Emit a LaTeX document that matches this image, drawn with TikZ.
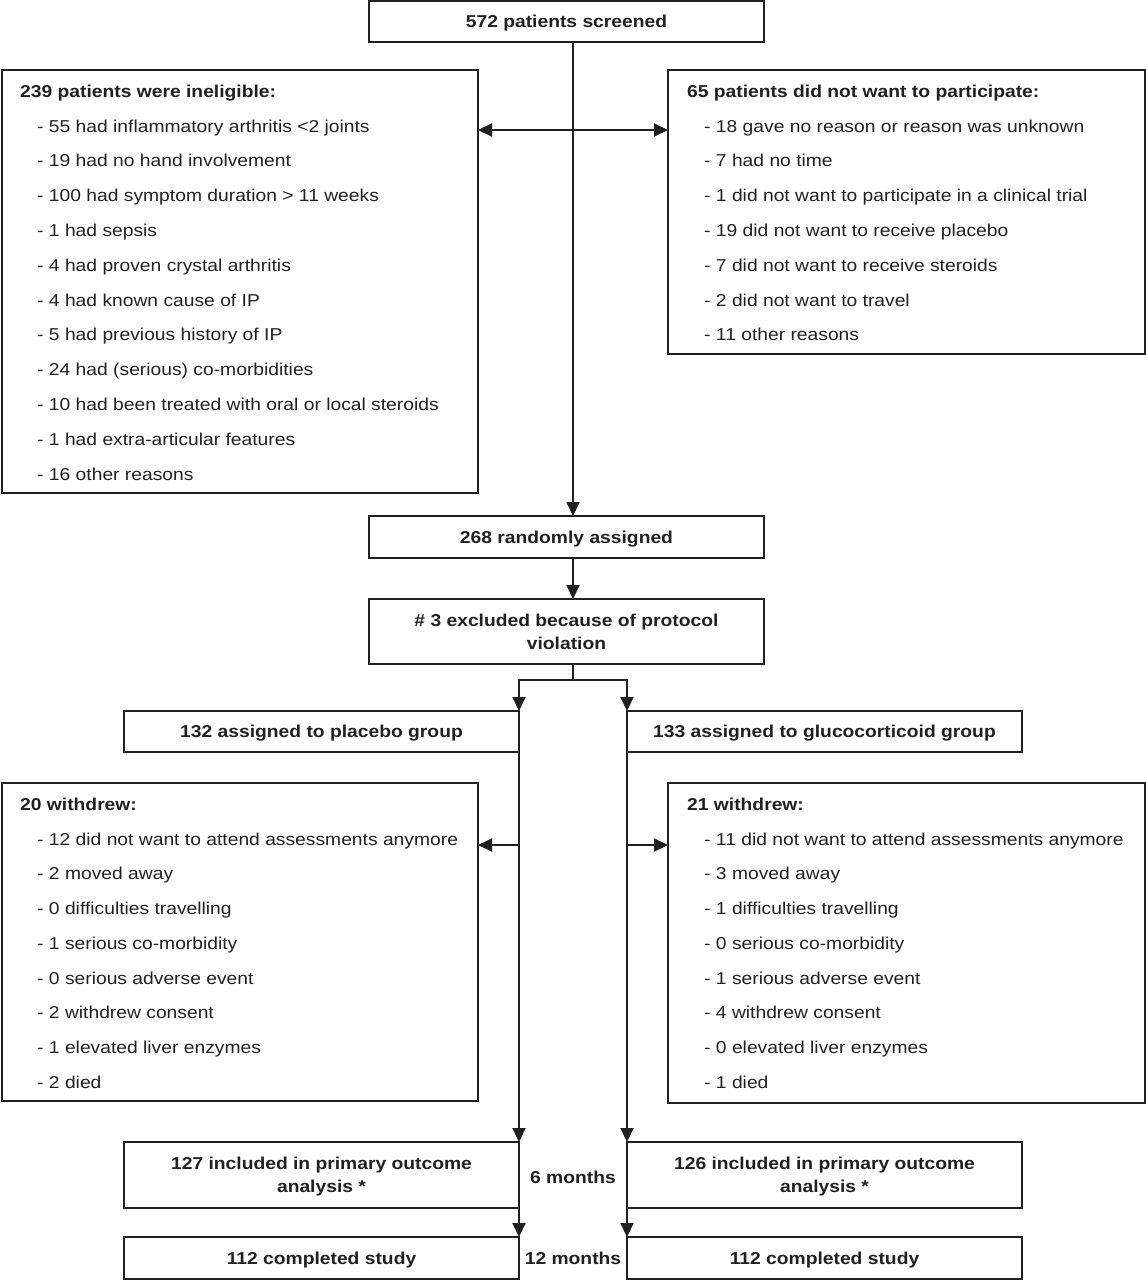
\documentclass[tikz,border=0pt]{standalone}
\usepackage{fontspec}
\setmainfont{Liberation Sans}[FakeStretch=1.12]
\usetikzlibrary{arrows.meta}
\definecolor{ink}{HTML}{202020}
\begin{document}
\begin{tikzpicture}[x=1pt,y=-1pt,
  box/.style={draw=ink, line width=2pt, anchor=north west, inner sep=0pt, outer sep=0pt,
    font=\fontsize{17.2}{23}\selectfont\bfseries, align=center, text=ink},
  one/.style={text height=12.3pt, text depth=0pt},
  lbl/.style={anchor=base west, inner sep=0pt, font=\fontsize{17.2}{23}\selectfont, text=ink},
  ttl/.style={anchor=base west, inner sep=0pt, font=\fontsize{17.2}{23}\selectfont\bfseries, text=ink},
  mlbl/.style={inner sep=0pt, text height=12.3pt, text depth=0pt, font=\fontsize{17.2}{23}\selectfont\bfseries, text=ink},
  tip/.tip={Triangle[length=14pt,width=13pt]},
  arr/.style={draw=ink, line width=2pt, -tip},
  ln/.style={draw=ink, line width=2pt}]
\useasboundingbox (0,0) rectangle (1146,1280);

% boxes
\node[box, one, minimum width=395pt, minimum height=41pt] (screen) at (369,1) {572 patients screened};
\node[box, minimum width=476pt, minimum height=423pt] (inel) at (2,70) {};
\node[box, minimum width=477pt, minimum height=284pt] (refuse) at (668,70) {};
\node[box, one, minimum width=395pt, minimum height=42pt] (rand) at (369,516) {268 randomly assigned};
\node[box, minimum width=395pt, minimum height=65pt] (excl) at (369,599) {\# 3 excluded because of protocol\\violation};
\node[box, one, minimum width=395pt, minimum height=41pt] (plac) at (124,711) {132 assigned to placebo group};
\node[box, one, minimum width=395pt, minimum height=41pt] (gluc) at (627,711) {133 assigned to glucocorticoid group};
\node[box, minimum width=476pt, minimum height=318pt] (wl) at (2,783) {};
\node[box, minimum width=477pt, minimum height=320pt] (wr) at (668,783) {};
\node[box, text depth=0pt, minimum width=395pt, minimum height=66pt] (pl) at (124,1142) {127 included in primary outcome\\analysis *};
\node[box, text depth=0pt, minimum width=395pt, minimum height=66pt] (pr) at (627,1142) {126 included in primary outcome\\analysis *};
\node[box, one, minimum width=395pt, minimum height=42pt] (cl) at (124,1237) {112 completed study};
\node[box, one, minimum width=395pt, minimum height=42pt] (cr) at (627,1237) {112 completed study};
\node[mlbl] (m6) at (573,1177) {6 months};
\node[mlbl] (m12) at (573,1258) {12 months};

% list texts
\node[ttl] (inel-t) at (20,97) {239 patients were ineligible:};
\foreach \t [count=\i from 0] in {
  - 55 had inflammatory arthritis <2 joints,
  - 19 had no hand involvement,
  - 100 had symptom duration > 11 weeks,
  - 1 had sepsis,
  - 4 had proven crystal arthritis,
  - 4 had known cause of IP,
  - 5 had previous history of IP,
  - 24 had (serious) co-morbidities,
  - 10 had been treated with oral or local steroids,
  - 1 had extra-articular features,
  - 16 other reasons}
  \node[lbl] (inel-\i) at (37,132+34.8*\i) {\t};

\node[ttl] (refuse-t) at (687,97) {65 patients did not want to participate:};
\foreach \t [count=\i from 0] in {
  - 18 gave no reason or reason was unknown,
  - 7 had no time,
  - 1 did not want to participate in a clinical trial,
  - 19 did not want to receive placebo,
  - 7 did not want to receive steroids,
  - 2 did not want to travel,
  - 11 other reasons}
  \node[lbl] (refuse-\i) at (704,132+34.8*\i) {\t};

\node[ttl] (wl-t) at (20,810) {20 withdrew:};
\foreach \t [count=\i from 0] in {
  - 12 did not want to attend assessments anymore,
  - 2 moved away,
  - 0 difficulties travelling,
  - 1 serious co-morbidity,
  - 0 serious adverse event,
  - 2 withdrew consent,
  - 1 elevated liver enzymes,
  - 2 died}
  \node[lbl] (wl-\i) at (37,845+34.75*\i) {\t};

\node[ttl] (wr-t) at (687,810) {21 withdrew:};
\foreach \t [count=\i from 0] in {
  - 11 did not want to attend assessments anymore,
  - 3 moved away,
  - 1 difficulties travelling,
  - 0 serious co-morbidity,
  - 1 serious adverse event,
  - 4 withdrew consent,
  - 0 elevated liver enzymes,
  - 1 died}
  \node[lbl] (wr-\i) at (704,845+34.75*\i) {\t};

% connectors
\coordinate (spine) at (573,0);
\coordinate (dbl) at (573,130);
\coordinate (split) at (573,680);
\coordinate (wy) at (573,845);
\draw[arr] (screen.south -| spine) -- (rand.north -| spine);
\draw[ln, tip-tip] (inel.east |- dbl) -- (refuse.west |- dbl);
\draw[arr] (rand.south -| spine) -- (excl.north -| spine);
\draw[ln] (excl.south -| spine) -- (split);
\draw[arr] (split) -| (plac.north east);
\draw[arr] (split) -| (gluc.north west);
\draw[arr] (plac.south east) -- (pl.north east);
\draw[arr] (gluc.south west) -- (pr.north west);
\draw[arr] (plac.south east |- wy) -- (wl.east |- wy);
\draw[arr] (gluc.south west |- wy) -- (wr.west |- wy);
\draw[arr] (pl.south east) -- (cl.north east);
\draw[arr] (pr.south west) -- (cr.north west);
\end{tikzpicture}
\end{document}
